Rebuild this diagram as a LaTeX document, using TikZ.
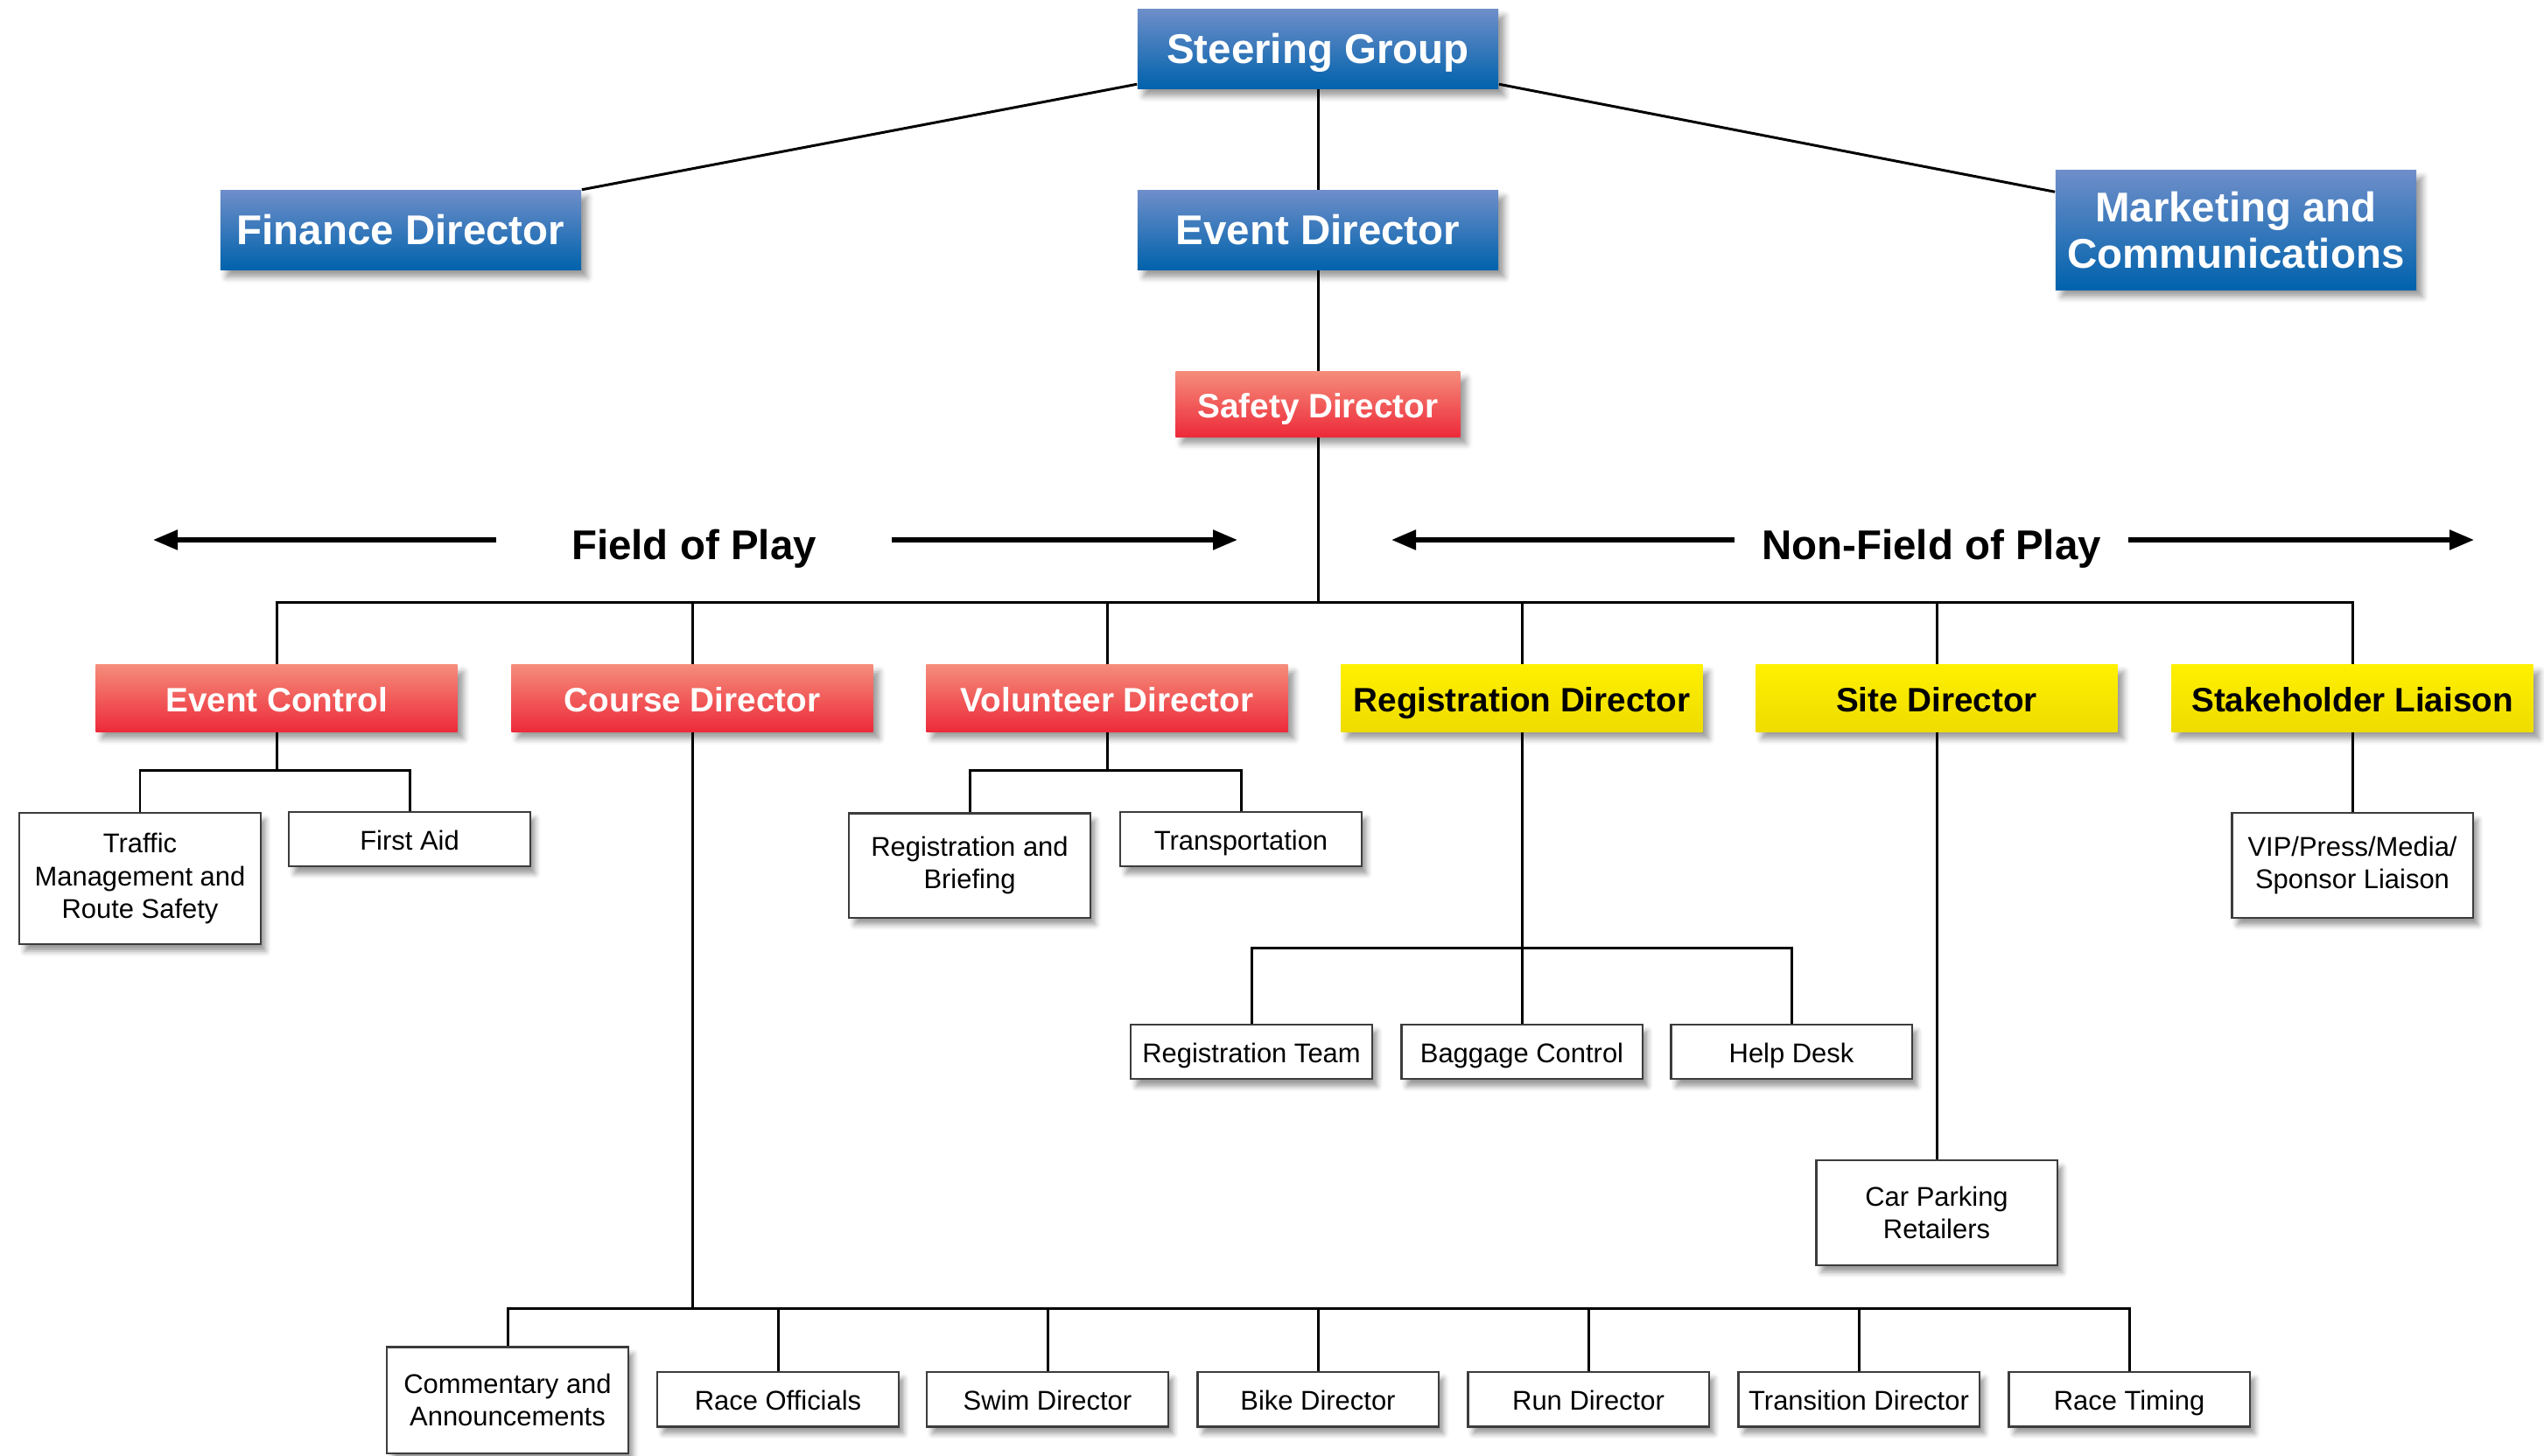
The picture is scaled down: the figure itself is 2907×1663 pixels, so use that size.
\documentclass[tikz,border=0pt]{standalone}
\usepackage{fontspec}
\setmainfont{Liberation Sans}
\usetikzlibrary{arrows.meta,shadows,shadows.blur}

\definecolor{bluetop}{RGB}{110,142,201}
\definecolor{bluebot}{RGB}{0,98,172}
\definecolor{redtop}{RGB}{245,140,122}
\definecolor{redbot}{RGB}{237,42,58}
\definecolor{yeltop}{RGB}{255,240,0}
\definecolor{yelbot}{RGB}{238,220,0}
\definecolor{leafline}{RGB}{60,60,60}

\begin{document}
\begin{tikzpicture}
[x=0.01cm, y=-0.01cm,
bluebox/.style={inner sep=0pt, minimum width=4.12cm, minimum height=0.91cm, text height=1.12em, text depth=0.2em, top color=bluetop, bottom color=bluebot, text=white, align=center, font=\fontsize{13.5}{15}\selectfont\bfseries, blur shadow={shadow xshift=0.07cm, shadow yshift=-0.08cm, shadow blur radius=0.07cm}},
redbox/.style={inner sep=0pt, minimum width=4.13cm, minimum height=0.76cm, text height=1.1em, text depth=0.2em, top color=redtop, bottom color=redbot, text=white, font=\fontsize{11}{13}\selectfont\bfseries, blur shadow={shadow xshift=0.07cm, shadow yshift=-0.08cm, shadow blur radius=0.07cm}},
yelbox/.style={redbox, top color=yeltop, bottom color=yelbot, text=black},
leaf/.style={draw=leafline, line width=0.6pt, fill=white, inner xsep=2pt, minimum width=2.75cm, minimum height=0.6cm, text height=0.92em, text depth=0.2em, align=center, font=\fontsize{8.8}{10.6}\selectfont, blur shadow={shadow xshift=0.06cm, shadow yshift=-0.08cm, shadow blur radius=0.06cm}},
lines/.style={text height={}, text depth={}},
banner/.style={inner ysep=0pt, font=\fontsize{13.5}{15}\selectfont\bfseries},
link/.style={line width=0.85pt},
wide/.style={line width=1.5pt, -{Triangle[length=0.28cm, width=0.22cm]}}]
\useasboundingbox (0,0) rectangle (2907,1663);

\node[bluebox] (sg) at (1506,56) {Steering Group};
\node[bluebox] (fd) at (458,263) {Finance Director};
\node[bluebox] (ed) at (1506,263) {Event Director};
\node[bluebox, lines, minimum height=1.36cm] (mc) at (2555,263) {Marketing and\\Communications};
\node[redbox, minimum width=3.25cm, minimum height=0.74cm] (safd) at (1506,462) {Safety Director};

\draw[link] ([yshift=0.06cm]sg.south west) -- (fd.north east);
\draw[link] ([yshift=0.06cm]sg.south east) -- ([yshift=-0.25cm]mc.north west);
\draw[link] (sg) -- (ed);
\draw[link] (ed) -- (safd);

\node[banner, inner xsep=0.85cm] (fop) at (793,627) {Field of Play};
\node[banner, inner xsep=0.3cm] (nfop) at (2207,627) {Non-Field of Play};
\coordinate (fopL) at (175,617);  \coordinate (fopR) at (1414,617);
\coordinate (nfopL) at (1590,617); \coordinate (nfopR) at (2827,617);
\draw[wide] (fop.west |- fopL) -- (fopL);   \draw[wide] (fop.east |- fopR) -- (fopR);
\draw[wide] (nfop.west |- nfopL) -- (nfopL); \draw[wide] (nfop.east |- nfopR) -- (nfopR);

\node[redbox] (ec) at (316,798) {Event Control};
\node[redbox] (cd) at (791,798) {Course Director};
\node[redbox] (vd) at (1265,798) {Volunteer Director};
\node[yelbox] (rd) at (1739,798) {Registration Director};
\node[yelbox] (sitd) at (2213,798) {Site Director};
\node[yelbox] (sl) at (2688,798) {Stakeholder Liaison};

\coordinate (bus) at (1506,688);
\draw[link] (safd) -- (bus);
\draw[link] (bus) -| (ec);   \draw[link] (bus) -| (cd);   \draw[link] (bus) -| (vd);
\draw[link] (bus) -| (rd);   \draw[link] (bus) -| (sitd); \draw[link] (bus) -| (sl);

\node[leaf, lines, minimum height=1.5cm] (tms) at (160,1004) {Traffic\\Management and\\Route Safety};
\node[leaf] (fa) at (468,959) {First Aid};
\node[leaf, lines, minimum height=1.19cm] (rb) at (1108,989) {Registration and\\Briefing};
\node[leaf] (tr) at (1418,959) {Transportation};
\node[leaf] (rt) at (1430,1202) {Registration Team};
\node[leaf] (bc) at (1739,1202) {Baggage Control};
\node[leaf] (hd) at (2047,1202) {Help Desk};
\node[leaf, lines, minimum height=1.2cm] (cp) at (2213,1386) {Car Parking\\Retailers};
\node[leaf, lines, minimum height=1.2cm] (vip) at (2688,989) {VIP/Press/Media/\\Sponsor Liaison};

\coordinate (ecbus) at (316,880);
\draw[link] (ec) -- (ecbus);  \draw[link] (ecbus) -| (tms);  \draw[link] (ecbus) -| (fa);
\coordinate (vdbus) at (1265,880);
\draw[link] (vd) -- (vdbus);  \draw[link] (vdbus) -| (rb);   \draw[link] (vdbus) -| (tr);
\coordinate (rdbus) at (1739,1083);
\draw[link] (rd) -- (bc);     \draw[link] (rdbus) -| (rt);   \draw[link] (rdbus) -| (hd);
\draw[link] (sitd) -- (cp);
\draw[link] (sl) -- (vip);

\node[leaf, lines, minimum height=1.21cm] (ca) at (580,1600) {Commentary and\\Announcements};
\node[leaf] (ro) at (889,1599) {Race Officials};
\node[leaf] (swd) at (1197,1599) {Swim Director};
\node[leaf] (bkd) at (1506,1599) {Bike Director};
\node[leaf] (rnd) at (1815,1599) {Run Director};
\node[leaf] (trd) at (2124,1599) {Transition Director};
\node[leaf] (rtm) at (2433,1599) {Race Timing};

\coordinate (cdbus) at (791,1495);
\draw[link] (cd) -- (cdbus);
\draw[link] (cdbus) -| (ca);  \draw[link] (cdbus) -| (ro);   \draw[link] (cdbus) -| (swd);
\draw[link] (cdbus) -| (bkd); \draw[link] (cdbus) -| (rnd);  \draw[link] (cdbus) -| (trd);
\draw[link] (cdbus) -| (rtm);
\end{tikzpicture}
\end{document}
